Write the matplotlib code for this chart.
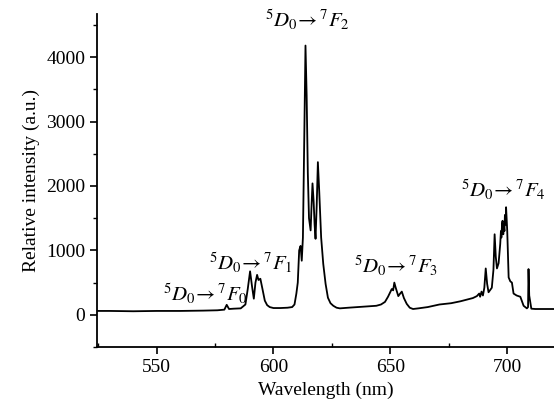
import matplotlib
matplotlib.use("Agg")
import matplotlib.pyplot as plt
from matplotlib.ticker import MultipleLocator

wavelength = [525, 530, 540, 550, 560, 570, 576, 579, 580, 581, 583, 586, 588, 589, 590,
              590.8, 591.6, 592.3, 593, 593.6, 594.4, 595.3, 596.3, 597.3, 598.4, 600, 603,
              606, 608, 609, 609.8, 610.4, 611, 611.6, 612.1, 612.6, 613.2, 613.7, 614.2,
              614.7, 615.2, 615.9, 616.3, 616.7, 617.2, 617.6, 618, 618.5, 619, 619.6, 620.4,
              621.3, 622.3, 623.3, 624.4, 625.6, 627, 628.4, 632, 636, 640, 644, 646, 647.7,
              649, 650.6, 651.2, 651.7, 652.3, 653.4, 654.2, 654.9, 655.8, 657, 658.3, 659.7,
              662, 666, 671, 676, 680, 685.3, 687, 688, 688.4, 689, 689.6, 690.2, 690.8, 691.4,
              692, 693.4, 694.1, 694.6, 695.1, 695.6, 696.3, 697, 697.3, 697.5, 697.8, 698,
              698.3, 698.5, 698.8, 699, 699.3, 699.5, 699.8, 700, 700.6, 701.3, 702, 702.7,
              704, 705.6, 707, 708.4, 708.9, 709.1, 709.4, 710.3, 712, 715, 720]
intensity = [60, 60, 55, 60, 60, 65, 70, 80, 155, 90, 95, 100, 160, 400, 675,
             450, 250, 500, 620, 540, 560, 400, 220, 150, 120, 105, 105,
             110, 120, 160, 330, 500, 1000, 1070, 840, 1200, 2800, 4180, 3400,
             2200, 1500, 1310, 1700, 2040, 1750, 1400, 1180, 1700, 2370, 1900, 1200,
             790, 480, 265, 180, 140, 110, 100, 110, 120, 130, 140, 160, 200,
             280, 400, 380, 500, 420, 290, 330, 360, 260, 170, 110, 90,
             100, 120, 160, 180, 210, 260, 290, 330, 280, 360, 300, 420, 720, 480,
             350, 420, 700, 1250, 900, 720, 800, 1100, 1300, 1200, 1420, 1460,
             1250, 1400, 1300, 1550, 1400, 1670, 1450, 1300, 580, 520, 500, 330,
             300, 280, 140, 100, 120, 710, 300, 95, 90, 90, 90]

label_texts = [r"$^{5}D_{0}\!\rightarrow{}^{7}F_{0}$", r"$^{5}D_{0}\!\rightarrow{}^{7}F_{1}$",
               r"$^{5}D_{0}\!\rightarrow{}^{7}F_{2}$", r"$^{5}D_{0}\!\rightarrow{}^{7}F_{3}$",
               r"$^{5}D_{0}\!\rightarrow{}^{7}F_{4}$"]
label_x = [571.0, 590.3, 614.7, 652.4, 698.3]
label_y = [327, 810, 4575, 763, 1930]

plt.rcParams['font.family'] = ['Liberation Serif', 'DejaVu Serif']
plt.rcParams['mathtext.fontset'] = 'stix'

fig = plt.figure(figsize=(5.54, 4.07), dpi=100)
ax = fig.add_axes([0.175, 0.1474, 0.825, 0.8182])
ax.plot(wavelength, intensity, color='black', lw=1.3)
ax.set_xlim(524.5, 720)
ax.set_ylim(-500, 4670)
ax.xaxis.set_major_locator(MultipleLocator(50))
ax.xaxis.set_minor_locator(MultipleLocator(25))
ax.yaxis.set_major_locator(MultipleLocator(1000))
ax.yaxis.set_minor_locator(MultipleLocator(500))
for s in ['top', 'right']:
    ax.spines[s].set_visible(False)
for s in ['left', 'bottom']:
    ax.spines[s].set_linewidth(1.3)
ax.tick_params(axis='both', which='major', direction='out', length=5, width=1.2, labelsize=14)
ax.tick_params(axis='x', which='minor', direction='in', length=3, width=1)
ax.tick_params(axis='y', which='minor', direction='out', length=3, width=1)
ax.set_xlabel('Wavelength (nm)', fontsize=14)
ax.set_ylabel('Relative intensity (a.u.)', fontsize=14)

for t, x, y in zip(label_texts, label_x, label_y):
    ax.text(x, y, t, ha='center', va='center', fontsize=15)

fig.savefig('out.png', dpi=100)
